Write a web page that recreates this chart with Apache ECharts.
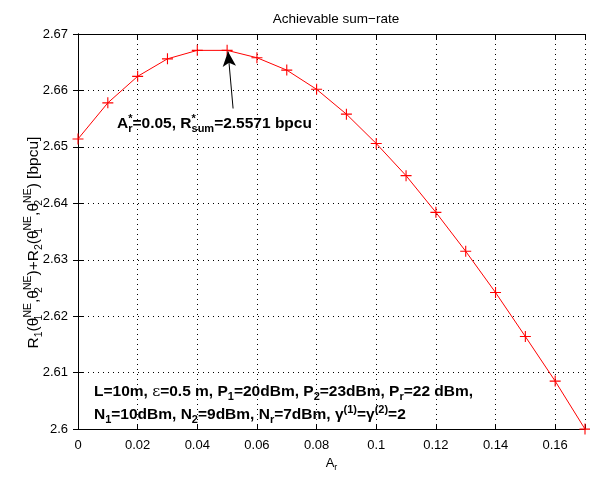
<!DOCTYPE html>
<html><head><meta charset="utf-8">
<script src="https://cdn.jsdelivr.net/npm/echarts@6/dist/echarts.min.js"></script>
<style>html,body{margin:0;padding:0;background:#fff}#c{width:590px;height:477px}</style>
</head><body><div id="c"></div>
<script>
const xValues = [0,0.01,0.02,0.03,0.04,0.05,0.06,0.07,0.08,0.09,0.10,0.11,0.12,0.13,0.14,0.15,0.16,0.17];
const sumRate = [2.6514,2.6578,2.6625,2.6656,2.6671,2.6671,2.6658,2.6636,2.6602,2.6558,2.6506,2.6449,2.6384,2.6315,2.6242,2.6164,2.6085,2.6000];
const arrowFrom = [0.052, 2.6568];
const arrowTo = [0.0503, 2.6669];

const FF = '"Liberation Sans", Arial, Helvetica, sans-serif';
const chart = echarts.init(document.getElementById('c'));
const plusPath = 'path://M4.5,0h1v10h-1zM0,4.5h10v1h-10z';
const BS = 15.5, SS = 11;
const boldRich = {
  sub: {fontSize: SS, fontWeight: 'bold', fontFamily: FF, padding: [10,0,0,0]},
  sup: {fontSize: SS, fontWeight: 'bold', fontFamily: FF, padding: [0,0,10,0]},
  supz: {fontSize: SS, fontWeight: 'bold', fontFamily: FF, padding: [0,0,10,0], width: 0.01},
  e: {fontSize: BS, fontFamily: '"DejaVu Serif", serif'}
};
const yRich = {
  sub: {fontSize: 10.5, fontFamily: FF, padding: [10,0,0,0]},
  subz: {fontSize: 10.5, fontFamily: FF, padding: [10,0,0,0], width: 0.01},
  sup: {fontSize: 10.5, fontFamily: FF, padding: [0,0,11,0]}
};
const gridLine = {show: true, lineStyle: {color: '#000', type: [1, 4], width: 1}};
chart.setOption({
  animation: false,
  title: {text: 'Achievable sum\u2212rate', left: 331, top: 7, textAlign: 'center',
    textStyle: {fontFamily: FF, fontSize: 13.5, fontWeight: 'normal', color: '#000'}},
  grid: {left: 78, right: 5, top: 34, bottom: 44},
  xAxis: [{
    type: 'value', min: 0, max: 0.17, interval: 0.02,
    axisLine: {lineStyle: {color: '#000', width: 1}},
    axisTick: {inside: true, length: 5, lineStyle: {color: '#000'}},
    axisLabel: {margin: 10, fontFamily: FF, fontSize: 13, color: '#000',
      formatter: v => (Math.abs(v - 0.17) < 1e-9 ? '' : String(+v.toFixed(2)))},
    splitLine: gridLine,
    name: 'A{s|r}', nameLocation: 'middle', nameGap: 24,
    nameTextStyle: {fontFamily: FF, fontSize: 13, color: '#000',
      rich: {s: {fontSize: 9, fontFamily: FF, padding: [8,0,0,0]}}}
  }, {
    type: 'value', position: 'top', min: 0, max: 0.17, interval: 0.02,
    axisLine: {show: true, lineStyle: {color: '#000'}},
    axisTick: {show: true, inside: true, length: 5, lineStyle: {color: '#000'}},
    axisLabel: {show: false}, splitLine: {show: false}
  }],
  yAxis: [{
    type: 'value', min: 2.6, max: 2.67, interval: 0.01,
    axisLine: {show: true, lineStyle: {color: '#000'}},
    axisTick: {show: true, inside: true, length: 5, lineStyle: {color: '#000'}},
    axisLabel: {margin: 10, fontFamily: FF, fontSize: 13, color: '#000',
      formatter: v => String(+v.toFixed(2))},
    splitLine: gridLine,
    name: 'R{sub|1}(θ{subz|1}{sup|NE},θ{subz|2}{sup|NE})+R{sub|2}(θ{subz|1}{sup|NE},θ{subz|2}{sup|NE}) [bpcu]',
    nameLocation: 'middle', nameGap: 33, nameRotate: 90, nameMoveOverlap: false,
    nameTextStyle: {fontFamily: FF, fontSize: 15.5, color: '#000', rich: yRich, padding: [0, 22, 0, 0]}
  }, {
    type: 'value', position: 'right', min: 2.6, max: 2.67, interval: 0.01,
    axisLine: {show: true, lineStyle: {color: '#000'}},
    axisTick: {show: true, inside: true, length: 5, lineStyle: {color: '#000'}},
    axisLabel: {show: false}, splitLine: {show: false}
  }],
  series: [{
    type: 'line',
    data: xValues.map((x, i) => [x, sumRate[i]]),
    symbol: plusPath, symbolSize: 11, showSymbol: true,
    lineStyle: {color: '#ff0000', width: 1},
    itemStyle: {color: '#ff0000'},
    markLine: {
      silent: true, symbol: ['none', 'arrow'], symbolSize: [10, 15],
      lineStyle: {color: '#000', width: 1, type: 'solid'},
      label: {show: false},
      data: [[{coord: arrowFrom}, {coord: arrowTo}]]
    },
    clip: false
  }],
  graphic: [{
    type: 'text', left: 117, top: 113,
    style: {text: 'A{supz|*}{sub|r}=0.05, R{supz|*}{sub|sum}=2.5571 bpcu', fontFamily: FF, fontSize: BS,
      fontWeight: 'bold', fill: '#000', rich: boldRich}
  }, {
    type: 'text', left: 94, top: 384,
    style: {text: 'L=10m, {e|ε}=0.5 m, P{sub|1}=20dBm, P{sub|2}=23dBm, P{sub|r}=22 dBm,', fontFamily: FF, fontSize: BS,
      fontWeight: 'bold', fill: '#000', rich: boldRich}
  }, {
    type: 'text', left: 94, top: 404,
    style: {text: 'N{sub|1}=10dBm, N{sub|2}=9dBm, N{sub|r}=7dBm, γ{sup|(1)}=γ{sup|(2)}=2', fontFamily: FF, fontSize: BS,
      fontWeight: 'bold', fill: '#000', rich: boldRich}
  }]
});
</script></body></html>
